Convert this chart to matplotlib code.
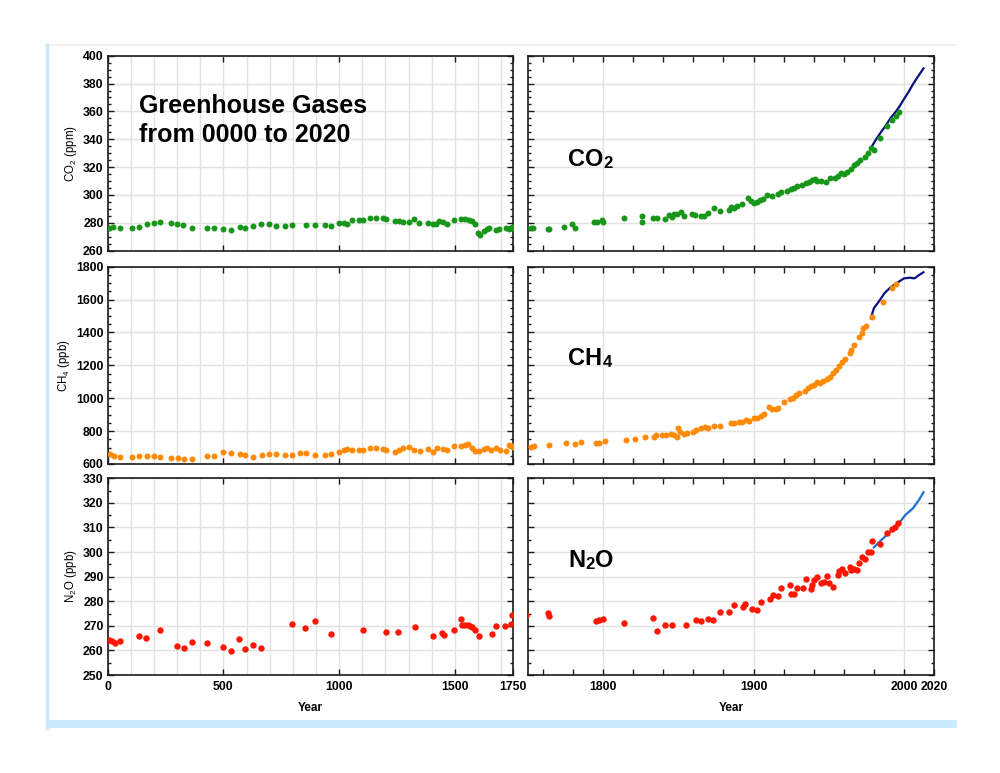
import matplotlib
matplotlib.use('Agg')
import matplotlib.pyplot as plt
from matplotlib.ticker import MultipleLocator, FixedLocator, NullFormatter
from matplotlib.lines import Line2D
from matplotlib.patches import Rectangle

plt.rcParams['font.family'] = ['Liberation Sans', 'DejaVu Sans']
plt.rcParams['mathtext.fontset'] = 'custom'
plt.rcParams['mathtext.rm'] = 'Liberation Sans'
plt.rcParams['mathtext.it'] = 'Liberation Sans:italic'
plt.rcParams['mathtext.bf'] = 'Liberation Sans:bold'

# ---------------- data (ice core + instrumental) ----------------
co2_year = [6, 24, 53, 103, 134, 168, 201, 226, 272, 300, 326, 363, 427, 458, 497, 534,
            570, 592, 629, 664, 697, 728, 764, 796, 855, 895, 941, 967, 999, 1019, 1033,
            1055, 1085, 1102, 1135, 1159, 1188, 1203, 1243, 1260, 1277, 1300, 1325, 1343,
            1384, 1407, 1418, 1430, 1447, 1468, 1497, 1526, 1545, 1562, 1576, 1585, 1602,
            1608, 1624, 1641, 1648, 1677, 1691, 1720, 1734, 1741, 1748,
            1752, 1753, 1763, 1764, 1774, 1779, 1781, 1794, 1796, 1799, 1800, 1814, 1826,
            1826, 1833, 1836, 1841, 1844, 1846, 1847, 1849, 1852, 1854, 1859, 1861, 1865,
            1867, 1870, 1874, 1878, 1884, 1885, 1887, 1889, 1892, 1896, 1898, 1900, 1902,
            1904, 1906, 1909, 1912, 1916, 1918, 1922, 1925, 1927, 1929, 1932, 1935, 1937,
            1939, 1941, 1942, 1945, 1948, 1951, 1954, 1956, 1958, 1960, 1962, 1965, 1967,
            1969, 1971, 1974, 1976, 1978, 1980, 1984, 1989, 1992, 1995, 1997]
co2_ppm = [276.1, 277.0, 276.6, 276.6, 277.0, 279.4, 280.1, 280.9, 279.7, 279.2, 278.2,
           276.3, 276.1, 276.1, 275.6, 275.1, 277.0, 276.1, 277.5, 278.9, 279.2, 278.0,
           278.0, 278.2, 278.7, 278.2, 278.7, 277.8, 279.7, 279.9, 279.4, 282.1, 281.8,
           282.1, 283.3, 283.3, 283.3, 283.0, 281.3, 281.3, 280.6, 280.9, 282.8, 279.7,
           279.9, 279.2, 279.4, 281.3, 280.9, 278.9, 281.8, 282.8, 282.5, 281.8, 281.1,
           279.4, 273.0, 271.3, 273.9, 275.6, 276.6, 275.1, 275.6, 276.6, 275.8, 276.6, 276.8,
           276.1, 276.6, 275.8, 275.6, 277.3, 279.2, 276.1, 280.9, 280.9, 282.1, 280.4,
           283.7, 284.9, 280.6, 283.7, 283.3, 282.5, 285.6, 284.4, 286.4, 286.1, 287.8,
           285.2, 286.4, 285.6, 284.9, 284.9, 287.1, 290.4, 288.3, 289.5, 291.6, 290.4,
           292.1, 293.3, 297.6, 295.7, 294.5, 294.7, 296.4, 296.9, 300.0, 299.3, 300.7,
           302.4, 303.1, 304.1, 305.3, 306.5, 307.2, 308.4, 309.1, 310.8, 311.2, 310.3,
           310.0, 309.6, 312.0, 312.0, 313.6, 315.6, 315.1, 316.7, 318.4, 321.5, 323.2,
           325.1, 327.5, 329.9, 333.5, 332.3, 340.7, 349.5, 353.8, 356.7, 359.8]
co2_inst_year = [1979, 1982, 1985, 1988, 1991, 1994, 1997, 2000, 2003, 2006, 2009, 2013]
co2_inst_ppm = [335.5, 340.8, 345.5, 350.0, 355.0, 359.0, 363.5, 368.8, 373.8, 379.5, 384.5, 390.9]

ch4_year = [10, 27, 55, 103, 135, 168, 201, 228, 273, 302, 329, 364, 427, 458, 497, 534,
            570, 595, 629, 667, 697, 728, 764, 797, 829, 855, 895, 941, 967, 999, 1019,
            1033, 1056, 1085, 1102, 1135, 1160, 1188, 1203, 1243, 1257, 1274, 1300, 1325,
            1351, 1386, 1407, 1425, 1447, 1464, 1497, 1526, 1545, 1559, 1573, 1588, 1605,
            1624, 1641, 1658, 1677, 1695, 1720, 1734, 1741, 1748,
            1752, 1754, 1764, 1775, 1781, 1785, 1795, 1797, 1801, 1815, 1821, 1828, 1834,
            1835, 1839, 1842, 1845, 1847, 1849, 1850, 1851, 1854, 1856, 1860, 1862, 1865,
            1868, 1870, 1874, 1878, 1885, 1887, 1890, 1892, 1895, 1897, 1900, 1902, 1905,
            1907, 1910, 1912, 1915, 1916, 1920, 1924, 1926, 1928, 1930, 1934, 1936, 1938,
            1940, 1942, 1944, 1946, 1949, 1951, 1953, 1955, 1957, 1959, 1961, 1964, 1965,
            1967, 1970, 1972, 1973, 1975, 1979, 1986, 1992, 1995]
ch4_ppb = [658.7, 646.5, 640.5, 644.5, 650.6, 650.6, 650.6, 642.5, 638.4, 634.4, 630.3,
           630.3, 646.5, 648.6, 670.9, 666.8, 662.7, 656.7, 642.5, 652.6, 660.7, 660.7,
           652.6, 652.6, 666.8, 666.8, 656.7, 656.7, 662.7, 670.9, 687.1, 691.1, 683.0,
           687.1, 687.1, 697.2, 699.2, 691.1, 685.0, 670.9, 685.0, 699.2, 701.3, 685.0,
           681.0, 689.1, 674.9, 695.2, 691.1, 683.0, 707.3, 709.4, 715.4, 723.5, 695.2,
           679.0, 679.0, 691.1, 695.2, 685.0, 699.2, 685.0, 681.0, 715.4, 709.4, 712.0,
           705.3, 711.4, 715.5, 729.7, 723.6, 731.7, 725.6, 727.6, 739.8, 745.9, 749.9,
           764.1, 766.1, 776.3, 774.3, 776.3, 782.4, 774.3, 766.1, 816.8, 796.6, 784.4,
           790.5, 796.6, 806.7, 816.8, 826.9, 816.8, 833.0, 831.0, 847.2, 851.3, 853.3,
           857.4, 867.5, 863.5, 877.6, 881.7, 891.8, 901.9, 948.6, 934.4, 932.4, 942.5,
           975.0, 993.2, 1003.3, 1019.5, 1031.7, 1043.9, 1060.1, 1074.3, 1080.4, 1096.6,
           1090.5, 1104.7, 1116.8, 1131.0, 1151.3, 1171.6, 1195.9, 1222.3, 1238.5, 1273.0,
           1291.2, 1323.6, 1370.2, 1394.6, 1425.0, 1439.2, 1495.9, 1587.2, 1668.2, 1692.6]
ch4_inst_year = [1978, 1980, 1984, 1987, 1991, 1996, 2000, 2004, 2007, 2010, 2013]
ch4_inst_ppb = [1486, 1547, 1597, 1638, 1674, 1705, 1729, 1733, 1729, 1749, 1766]

n2o_year = [6, 17, 30, 55, 134, 167, 226, 300, 328, 364, 427, 497, 534, 569, 593, 629,
            664, 796, 853, 895, 966, 1102, 1204, 1254, 1326, 1407, 1444, 1454, 1497, 1526,
            1530, 1545, 1555, 1565, 1576, 1588, 1605, 1659, 1677, 1717, 1741, 1749,
            1763, 1764, 1795, 1797, 1800, 1814, 1833, 1836, 1841, 1846, 1855, 1862, 1865,
            1870, 1873, 1878, 1884, 1887, 1893, 1894, 1899, 1902, 1905, 1911, 1913, 1916,
            1918, 1924, 1925, 1927, 1929, 1933, 1935, 1938, 1939, 1940, 1942, 1945, 1947,
            1949, 1950, 1953, 1956, 1957, 1959, 1961, 1964, 1965, 1967, 1969, 1970, 1972,
            1974, 1976, 1978, 1979, 1984, 1989, 1992, 1994, 1996]
n2o_ppb = [264.1, 263.7, 262.9, 263.8, 266.0, 264.9, 268.2, 261.9, 261.1, 263.4, 263.2,
           261.4, 259.9, 264.5, 260.7, 262.1, 261.0, 270.6, 269.3, 272.1, 266.7, 268.2,
           267.6, 267.5, 269.7, 266.0, 266.9, 266.4, 268.3, 272.6, 270.5, 270.2, 270.2,
           269.9, 269.7, 268.3, 266.0, 266.8, 270.1, 269.8, 270.9, 274.3,
           275.1, 274.0, 272.0, 272.4, 272.6, 271.3, 273.2, 268.0, 270.3, 270.5, 270.5,
           272.2, 271.8, 272.9, 272.4, 275.8, 275.8, 278.3, 277.5, 278.9, 276.7, 276.4,
           279.6, 280.8, 282.4, 282.1, 285.5, 286.5, 283.1, 283.1, 285.5, 285.4, 288.9,
           285.0, 286.6, 288.6, 289.7, 287.3, 288.0, 290.3, 287.3, 285.9, 290.7, 292.4,
           293.0, 291.4, 294.1, 292.7, 293.0, 292.7, 295.4, 297.9, 297.1, 300.2, 300.2,
           304.5, 303.3, 307.6, 309.3, 310.3, 311.7]
n2o_inst_year = [1980, 1985, 1991, 1997, 2001, 2006, 2010, 2013]
n2o_inst_ppb = [301.9, 304.9, 308.3, 312.0, 315.1, 317.8, 321.2, 324.3]

gases = [
    dict(year=co2_year, val=co2_ppm, iy=co2_inst_year, iv=co2_inst_ppm,
         color='#17961a', lcolor='#0a1080', ylim=(260, 400), major=20, minor=5,
         ylabel=r'CO$_2$ (ppm)', parts=[('CO', 17), ('2', 12)], ms=4.3),
    dict(year=ch4_year, val=ch4_ppb, iy=ch4_inst_year, iv=ch4_inst_ppb,
         color='#ff8a05', lcolor='#0a1080', ylim=(600, 1800), major=200, minor=50,
         ylabel=r'CH$_4$ (ppb)', parts=[('CH', 17), ('4', 12)], ms=4.3),
    dict(year=n2o_year, val=n2o_ppb, iy=n2o_inst_year, iv=n2o_inst_ppb,
         color='#ff1500', lcolor='#1f6fd0', ylim=(250, 330), major=10, minor=5,
         ylabel=r'N$_2$O (ppb)', parts=[('N', 17), ('2', 12), ('O', 17)], ms=4.6),
]

W, H = 1000, 773
fig = plt.figure(figsize=(W / 100, H / 100), dpi=100)
fig.patch.set_facecolor('white')

# decorative frame
fig.add_artist(Line2D([46 / W, 957 / W], [1 - 45 / H, 1 - 45 / H], color='#f0f0f0', lw=1.2))
fig.add_artist(Line2D([46.5 / W, 46.5 / W], [1 - 45 / H, 1 - 728 / H], color='#c8e8fb', lw=2.5))
fig.add_artist(Rectangle((46 / W, 1 - 728 / H), (957 - 46) / W, 8 / H,
                         transform=fig.transFigure, color='#c8eafc', lw=0))

rows = [(55.7, 250.7), (266.7, 464.0), (478.3, 675.0)]
cols = [(107.7, 512.7), (528.0, 934.0)]

tickfont = dict(family=['Liberation Sans', 'DejaVu Sans'], weight='bold', size=8.8)
spine_color = '#1a1a1a'
grid_color = '#e2e2e2'

for r, g in enumerate(gases):
    top, bot = rows[r]
    for c in range(2):
        x0, x1 = cols[c]
        ax = fig.add_axes([x0 / W, 1 - bot / H, (x1 - x0) / W, (bot - top) / H])
        ax.set_facecolor('white')
        ax.set_ylim(*g['ylim'])
        ax.yaxis.set_major_locator(MultipleLocator(g['major']))
        ax.yaxis.set_minor_locator(MultipleLocator(g['minor']))
        if c == 0:
            ax.set_xlim(0, 1750)
            ax.xaxis.set_major_locator(FixedLocator([0, 500, 1000, 1500, 1750]))
            ax.xaxis.set_minor_locator(MultipleLocator(100))
            ax.grid(True, which='minor', axis='x', color=grid_color, lw=1.0)
            ax.tick_params(axis='x', which='minor', length=0)
        else:
            ax.set_xlim(1750, 2020)
            ax.xaxis.set_major_locator(FixedLocator([1800, 1900, 2000, 2020]))
            ax.xaxis.set_minor_locator(MultipleLocator(20))
            ax.tick_params(axis='x', which='minor', length=4, width=1.0,
                           direction='in', top=True, bottom=True, color=spine_color)
        ax.grid(True, which='major', axis='x', color=grid_color, lw=1.0)
        ax.grid(True, which='major', axis='y', color=grid_color, lw=1.0)
        ax.set_axisbelow(True)
        ax.tick_params(axis='x', which='major', direction='in', length=4, width=1.0,
                       top=True, bottom=True, color=spine_color, pad=4)
        ax.tick_params(axis='y', which='major', direction='in', length=4, width=1.0,
                       left=True, right=True, color=spine_color, pad=3)
        ax.tick_params(axis='y', which='minor', direction='in', length=2.5, width=1.0,
                       left=True, right=True, color=spine_color)
        for s in ax.spines.values():
            s.set_color(spine_color)
            s.set_linewidth(1.2)

        # data
        ax.plot(g['iy'], g['iv'], color=g['lcolor'], lw=1.6, zorder=3)
        ax.plot(g['year'], g['val'], 'o', color=g['color'], ms=g['ms'],
                mec=g['color'], mew=0, zorder=4)

        if r == 2:
            ax.set_xticklabels([str(int(v)) for v in ax.get_xticks()], fontdict=tickfont)
            ax.set_xlabel('Year', fontsize=8.5, fontweight='bold', labelpad=7)
        else:
            ax.xaxis.set_major_formatter(NullFormatter())
        if c == 0:
            ax.set_yticks(ax.get_yticks())
            ax.set_yticklabels([str(int(v)) for v in ax.get_yticks()], fontdict=tickfont)
            ax.set_ylim(*g['ylim'])
            ax.set_ylabel(g['ylabel'], fontsize=8.3, labelpad=3)
        else:
            ax.yaxis.set_major_formatter(NullFormatter())
            # gas name label
            tx = (568 - x0) / (x1 - x0)
            base = [165.7, 365.0, 567.3][r]
            ty = (bot - base) / (bot - top)
            prev = None
            for text, size in g['parts']:
                if prev is None:
                    prev = ax.text(tx, ty, text, transform=ax.transAxes, fontsize=size,
                                   fontweight='bold', ha='left', va='baseline')
                else:
                    prev = ax.annotate(text, xy=(1, 0), xycoords=prev, fontsize=size,
                                       fontweight='bold', ha='left', va='bottom',
                                       xytext=(0.3, 0), textcoords='offset points')

        if r == 0 and c == 0:
            for line, base in (('Greenhouse Gases', 112.7), ('from 0000 to 2020', 141.7)):
                ax.text((139 - x0) / (x1 - x0), (bot - base) / (bot - top), line,
                        transform=ax.transAxes, fontsize=18, fontweight='bold',
                        ha='left', va='baseline')

fig.savefig('out.png', dpi=100, facecolor='white')
